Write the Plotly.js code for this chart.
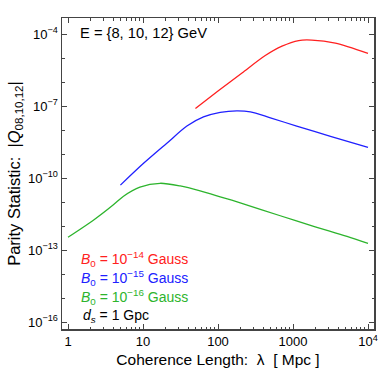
<!DOCTYPE html>
<html>
<head>
<meta charset="utf-8">
<script src="https://cdn.plot.ly/plotly-3.0.1.min.js"></script>
<style>
  html, body { margin: 0; padding: 0; background: #fff; }
  #chart { width: 379px; height: 372px; }
</style>
</head>
<body>
<div id="chart"></div>
<script>
// values (lambda in Mpc, |Q| dimensionless)
let redLambda = [50, 100, 209, 427, 713, 1190, 1780, 3670, 10000];
let redQ = [8.1e-8, 4.3e-7, 2.45e-6, 1.3e-5, 3.2e-5, 5.5e-5, 5.75e-5, 4.3e-5, 1.6e-5];

let blueLambda = [5, 10, 20.8, 38.5, 64, 107, 178, 270, 500, 1120, 3160, 10000];
let blueQ = [5.2e-11, 4.0e-10, 2.9e-9, 1.5e-8, 3.6e-8, 5.6e-8, 6.5e-8, 5.9e-8, 3.3e-8, 1.5e-8, 5.6e-9, 1.95e-9];

let greenLambda = [1, 2.18, 4.03, 5.5, 9.1, 16.9, 31.3, 57.8, 107, 198, 676, 1884, 5250, 10000];
let greenQ = [3.5e-13, 1.8e-12, 7.9e-12, 1.8e-11, 4.3e-11, 6.2e-11, 4.8e-11, 3.0e-11, 1.7e-11, 9.5e-12, 2.75e-12, 1.0e-12, 3.8e-13, 1.95e-13];

let xTickVals = [1, 10, 100, 1000, 10000];
let xTickText = ['1', '10', '100', '1000', '10<sup>4</sup>'];
let yTickVals = [1e-16, 1e-13, 1e-10, 1e-7, 1e-4];
let yTickText = ['10<sup>\u221216</sup>', '10<sup>\u221213</sup>', '10<sup>\u221210</sup>', '10<sup>\u22127</sup>', '10<sup>\u22124</sup>'];

// minor tick positions
let xMinor = [];
[1, 10, 100, 1000].forEach(d => { for (let k = 2; k <= 9; k++) xMinor.push(k * d); });
let yMinor = [];
for (let e = -16; e <= -4; e++) yMinor.push(Math.pow(10, e));

let frame = '#444';
let font = 'Liberation Sans, Arial, sans-serif';

function curve(x, y, color) {
    return {
        x: x, y: y,
        mode: 'lines',
        line: { color: color, width: 1.3, shape: 'spline', smoothing: 0.8 },
        hoverinfo: 'skip',
        showlegend: false
    };
}

let traces = [
    curve(redLambda, redQ, '#ff2020'),
    curve(blueLambda, blueQ, '#2020ff'),
    curve(greenLambda, greenQ, '#2db42d')
];

let xRange = [-0.08, 4.08];
let yRange = [-16.28, -3.32];

let layout = {
    width: 379, height: 372,
    margin: { l: 62, r: 5, t: 18, b: 43 },
    paper_bgcolor: '#fff', plot_bgcolor: '#fff',
    font: { family: font, size: 13, color: '#000' },
    showlegend: false,
    xaxis: {
        type: 'log', range: xRange,
        tickmode: 'array', tickvals: xTickVals, ticktext: xTickText,
        ticks: 'inside', ticklen: 5, tickcolor: frame, tickwidth: 1,
        showline: true, linecolor: frame, linewidth: 1.5, mirror: 'allticks',
        showgrid: false, zeroline: false,
        tickfont: { size: 13 },
        title: { text: 'Coherence Length:  \u03bb  [ Mpc ]', font: { size: 15.5 }, standoff: 6 }
    },
    yaxis: {
        type: 'log', range: yRange,
        tickmode: 'array', tickvals: yTickVals, ticktext: yTickText,
        ticks: 'inside', ticklen: 5, tickcolor: frame, tickwidth: 1,
        showline: true, linecolor: frame, linewidth: 1.5, mirror: 'allticks',
        showgrid: false, zeroline: false,
        tickfont: { size: 13 },
        title: { text: 'Parity Statistic:  |<i>Q</i><sub>08,10,12</sub>|', font: { size: 16.5 }, standoff: 3 }
    },
    xaxis2: {
        type: 'log', range: xRange, overlaying: 'x',
        tickmode: 'array', tickvals: xMinor,
        ticks: 'inside', ticklen: 2.5, tickcolor: frame,
        showticklabels: false, showgrid: false, zeroline: false,
        showline: false, mirror: 'allticks'
    },
    yaxis2: {
        type: 'log', range: yRange, overlaying: 'y',
        tickmode: 'array', tickvals: yMinor,
        ticks: 'inside', ticklen: 2.5, tickcolor: frame,
        showticklabels: false, showgrid: false, zeroline: false,
        showline: false, mirror: 'allticks'
    },
    annotations: [
        { text: 'E = {8, 10, 12} GeV', x: 0.05, y: 0.952, color: '#000', size: 14.7 },
        { text: '<i>B</i><sub>0</sub> = 10<sup>\u221214</sup> Gauss', x: 0.055, y: 0.225, color: '#ff2020', size: 14 },
        { text: '<i>B</i><sub>0</sub> = 10<sup>\u221215</sup> Gauss', x: 0.055, y: 0.165, color: '#2020ff', size: 14 },
        { text: '<i>B</i><sub>0</sub> = 10<sup>\u221216</sup> Gauss', x: 0.055, y: 0.104, color: '#2db42d', size: 14 },
        { text: '<i>d<sub>s</sub></i> = 1 Gpc', x: 0.062, y: 0.042, color: '#000', size: 14 }
    ].map(a => ({
        text: a.text, xref: 'paper', yref: 'paper', x: a.x, y: a.y,
        xanchor: 'left', yanchor: 'middle', showarrow: false,
        font: { size: a.size, color: a.color, family: font }
    }))
};

// invisible point so the minor-tick axes get drawn
traces.push({ x: [1], y: [1e-20], xaxis: 'x2', yaxis: 'y2', mode: 'markers', marker: { opacity: 0 }, hoverinfo: 'skip', showlegend: false });

Plotly.newPlot('chart', traces, layout, { displayModeBar: false, staticPlot: true });
</script>
</body>
</html>
